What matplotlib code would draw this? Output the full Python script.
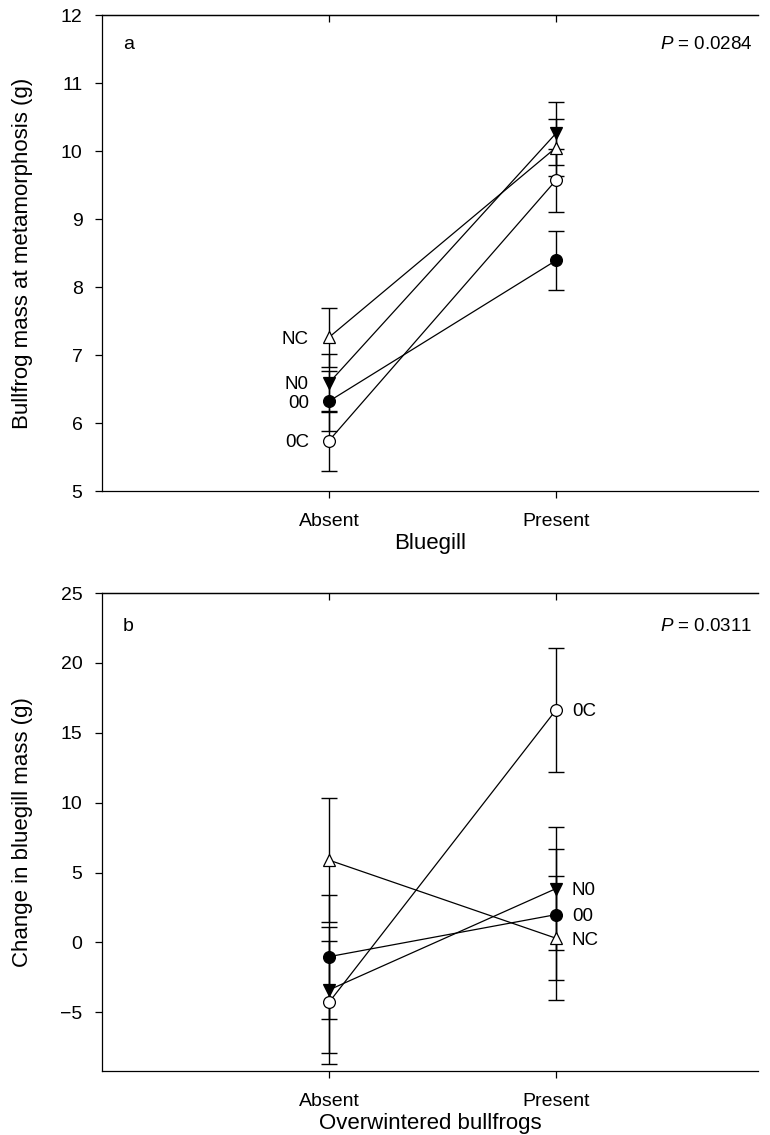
import matplotlib
matplotlib.use("Agg")
import matplotlib.pyplot as plt

plt.rcParams['font.family'] = ['Liberation Sans', 'DejaVu Sans']
plt.rcParams['mathtext.fontset'] = 'custom'
plt.rcParams['mathtext.it'] = 'Liberation Sans:italic'
plt.rcParams['mathtext.rm'] = 'Liberation Sans'

# groups (overwintered bullfrog / competitor treatments)
groups = ['NC', 'N0', '00', '0C']
markers = ['^', 'v', 'o', 'o']
faces = ['white', 'black', 'black', 'white']
levels = ['Absent', 'Present']

# panel a: bullfrog mass at metamorphosis (g), bluegill absent / present
mass_absent = [7.26, 6.59, 6.32, 5.74]
mass_present = [10.05, 10.26, 8.39, 9.57]
mass_se_absent = [0.43, 0.43, 0.44, 0.44]
mass_se_present = [0.42, 0.46, 0.44, 0.46]

# panel b: change in bluegill mass (g), overwintered bullfrogs absent / present
gill_absent = [5.89, -3.40, -1.02, -4.29]
gill_present = [0.30, 3.85, 1.99, 16.63]
gill_se_absent = [4.44, 4.50, 4.43, 4.41]
gill_se_present = [4.45, 4.40, 4.70, 4.42]

W, H = 770, 1135
fig = plt.figure(figsize=(W / 100, H / 100), dpi=100)
ax1 = fig.add_axes([102 / W, 1 - 491 / H, 656 / W, 476 / H])
ax2 = fig.add_axes([102 / W, 1 - 1071 / H, 656 / W, 478 / H])


def draw(ax, absent, present, se_a, se_p):
    x = [1, 2]
    for i in range(len(groups)):
        ax.plot(x, [absent[i], present[i]], color='black', lw=0.9, zorder=2)
        ax.errorbar(x, [absent[i], present[i]], yerr=[se_a[i], se_p[i]],
                    fmt='none', ecolor='black', elinewidth=1.0, capsize=5.5,
                    capthick=1.0, zorder=3)
        ax.plot(x, [absent[i], present[i]], ls='none', marker=markers[i],
                ms=8.5, mfc=faces[i], mec='black', mew=0.9, zorder=4)
    ax.set_xlim(0, 2.89)
    ax.set_xticks(x)
    ax.set_xticklabels(levels)
    ax.spines['right'].set_visible(False)
    for s in ['left', 'bottom', 'top']:
        ax.spines[s].set_linewidth(0.9)
    ax.tick_params(axis='both', direction='out', length=5, width=0.9,
                   labelsize=14)
    ax.tick_params(axis='x', pad=11)
    ax.tick_params(axis='y', pad=9)
    sec = ax.secondary_xaxis('top')
    sec.set_xticks(x)
    sec.tick_params(direction='in', length=5, width=0.9, labeltop=False)
    sec.spines['top'].set_linewidth(0.9)


draw(ax1, mass_absent, mass_present, mass_se_absent, mass_se_present)
ax1.set_ylim(5, 12)
ax1.set_yticks(range(5, 13))
ax1.set_xlabel('Bluegill', fontsize=16, labelpad=2)
ax1.set_ylabel('Bullfrog mass at metamorphosis (g)', fontsize=16)
ax1.yaxis.set_label_coords(-0.105, 0.5)
ax1.text(0.032, 0.937, 'a', transform=ax1.transAxes, fontsize=14,
         ha='left', va='center')
ax1.text(0.992, 0.937, r'$\mathit{P}$ = 0.0284', transform=ax1.transAxes,
         fontsize=13.5, ha='right', va='center')
for i, g in enumerate(groups):
    ax1.annotate(g, (1, mass_absent[i]), xytext=(-20, -2),
                 textcoords='offset pixels', ha='right', va='center',
                 fontsize=13.5)

draw(ax2, gill_absent, gill_present, gill_se_absent, gill_se_present)
ax2.set_ylim(-9.2, 25)
ax2.set_yticks(range(-5, 26, 5))
ax2.set_xlabel('Overwintered bullfrogs', fontsize=16, labelpad=2)
ax2.set_ylabel('Change in bluegill mass (g)', fontsize=16)
ax2.yaxis.set_label_coords(-0.105, 0.5)
ax2.text(0.032, 0.929, 'b', transform=ax2.transAxes, fontsize=14,
         ha='left', va='center')
ax2.text(0.992, 0.929, r'$\mathit{P}$ = 0.0311', transform=ax2.transAxes,
         fontsize=13.5, ha='right', va='center')
for i, g in enumerate(groups):
    ax2.annotate(g, (2, gill_present[i]), xytext=(16, -2),
                 textcoords='offset pixels', ha='left', va='center',
                 fontsize=13.5)

fig.savefig('out.png', dpi=100)
